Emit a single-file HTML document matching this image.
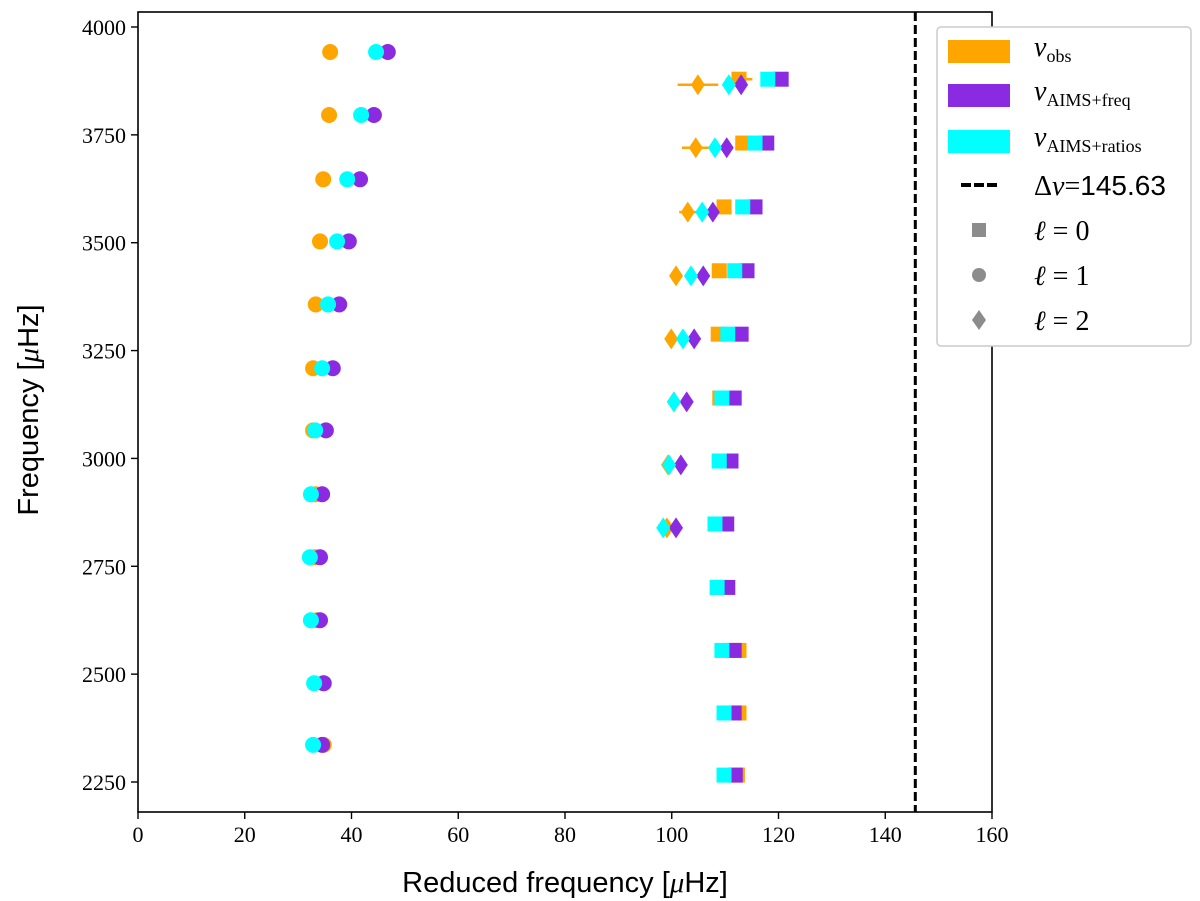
<!DOCTYPE html>
<html><head><meta charset="utf-8"><style>
html,body{margin:0;padding:0;background:#fff;}
svg{display:block;font-family:"Liberation Serif",serif;}
</style></head><body>
<svg id="chart" width="1200" height="901" xmlns="http://www.w3.org/2000/svg">
<g id="marks"></g>
<g id="axes"></g>
<g id="legend"></g>
</svg>
<script>
// l=1 (circles)
const l1Freq = [3942,3796,3647,3503,3357,3209,3065,2917,2771,2625,2479,2336];
const l1Obs = [36.0,35.8,34.7,34.1,33.3,32.8,32.8,33.3,33.1,33.5,34.7,34.8];
const l1Freqfit = [46.8,44.2,41.6,39.5,37.7,36.5,35.2,34.5,34.1,34.1,34.8,34.5];
const l1Ratios = [44.6,41.8,39.2,37.3,35.6,34.5,33.2,32.4,32.2,32.4,33.0,32.8];
// l=0 (squares)
const l0Freq = [3879,3731,3583,3435,3288,3140,2994,2848,2701,2555,2410,2266];
const l0Obs = [112.6,113.3,109.8,108.9,108.7,109.0,108.9,109.0,108.6,112.6,112.6,112.3];
const l0ObsErr = [2.5,0,0,0,0,0,0,0,0,1,0.8,1];
const l0Freqfit = [120.5,117.8,115.6,114.1,113.0,111.7,111.1,110.3,110.5,111.7,111.7,111.9];
const l0Ratios = [118.0,115.6,113.3,111.8,110.5,109.4,108.9,108.1,108.5,109.4,109.8,109.8];
// l=2 (diamonds)
const l2Freq = [3866,3720,3571,3423,3277,3131,2985,2839];
const l2Obs = [104.9,104.5,103.0,100.8,99.9,100.4,99.3,99.1];
const l2ObsErr = [3.8,2.6,1.6,0,0,0,0,0];
const l2Freqfit = [113.0,110.3,107.7,105.9,104.2,102.8,101.7,100.8];
const l2Ratios = [110.7,108.1,105.7,103.6,102.1,100.4,99.5,98.4];
const xTicks = [0,20,40,60,80,100,120,140,160];
const yTicks = [2250,2500,2750,3000,3250,3500,3750,4000];
const deltaNu = 145.63;

const NS="http://www.w3.org/2000/svg";
const L=138,R=992,T=12,B=812;
const xs=v=>L+(v-0)*(R-L)/160;
const ys=f=>27+(4000-f)*(782-27)/1750;
const C={obs:'#ffa500',fq:'#8a2be2',rt:'#00ffff'};
function mk(tag,attrs,parent){const e=document.createElementNS(NS,tag);for(const k in attrs)e.setAttribute(k,attrs[k]);parent.appendChild(e);return e;}
const marks=document.getElementById('marks'),axes=document.getElementById('axes'),leg=document.getElementById('legend');

function circle(v,f,c,name){const e=mk('circle',{cx:xs(v),cy:ys(f),r:8,fill:c},marks);

}
function square(v,f,c,name){const e=mk('rect',{x:xs(v)-7.5,y:ys(f)-7.5,width:15,height:15,fill:c},marks);

}
function diamond(v,f,c,name){const x=xs(v),y=ys(f);const e=mk('polygon',{points:`${x},${y-10.5} ${x+7},${y} ${x},${y+10.5} ${x-7},${y}`,fill:c},marks);

}
function errbar(v,f,err,name){if(!err)return;const e=mk('line',{x1:xs(v-err),x2:xs(v+err),y1:ys(f),y2:ys(f),stroke:C.obs,'stroke-width':2.5},marks);

}

// l=0
l0Freq.forEach((f,i)=>{errbar(l0Obs[i],f,l0ObsErr[i],'l0-obs-errorbar');square(l0Obs[i],f,C.obs,'l0-obs-point');});
l0Freq.forEach((f,i)=>square(l0Freqfit[i],f,C.fq,'l0-aims-freq-point'));
l0Freq.forEach((f,i)=>square(l0Ratios[i],f,C.rt,'l0-aims-ratios-point'));
// l=1
l1Freq.forEach((f,i)=>circle(l1Obs[i],f,C.obs,'l1-obs-point'));
l1Freq.forEach((f,i)=>circle(l1Freqfit[i],f,C.fq,'l1-aims-freq-point'));
l1Freq.forEach((f,i)=>circle(l1Ratios[i],f,C.rt,'l1-aims-ratios-point'));
// l=2
l2Freq.forEach((f,i)=>{errbar(l2Obs[i],f,l2ObsErr[i],'l2-obs-errorbar');diamond(l2Obs[i],f,C.obs,'l2-obs-point');});
l2Freq.forEach((f,i)=>diamond(l2Freqfit[i],f,C.fq,'l2-aims-freq-point'));
l2Freq.forEach((f,i)=>diamond(l2Ratios[i],f,C.rt,'l2-aims-ratios-point'));

// delta nu line
const dl=mk('line',{x1:xs(deltaNu),x2:xs(deltaNu),y1:T,y2:B,stroke:'#000','stroke-width':3,'stroke-dasharray':'9,4'},marks);



// frame
const fr=mk('rect',{x:L,y:T,width:R-L,height:B-T,fill:'none',stroke:'#000','stroke-width':1.6},axes);


xTicks.forEach(t=>{mk('line',{x1:xs(t),x2:xs(t),y1:B,y2:B+7,stroke:'#000','stroke-width':1.4},axes);
const tx=mk('text',{x:xs(t),y:B+30,'text-anchor':'middle','font-size':22},axes);tx.textContent=t;

});
yTicks.forEach(t=>{mk('line',{x1:L-7,x2:L,y1:ys(t),y2:ys(t),stroke:'#000','stroke-width':1.4},axes);
const tx=mk('text',{x:L-12,y:ys(t)+8,'text-anchor':'end','font-size':22},axes);tx.textContent=t;

});
const xt=mk('text',{x:565,y:892,'text-anchor':'middle','font-size':29,'font-family':'Liberation Sans, sans-serif'},axes);
xt.innerHTML='Reduced frequency [<tspan font-family="Liberation Serif" font-style="italic">μ</tspan>Hz]';


const yt=mk('text',{x:0,y:0,'text-anchor':'middle','font-size':29,'font-family':'Liberation Sans, sans-serif',transform:'translate(38,410) rotate(-90)'},axes);
yt.innerHTML='Frequency [<tspan font-family="Liberation Serif" font-style="italic">μ</tspan>Hz]';



// legend
const lb=mk('rect',{x:937,y:27,width:254,height:319,rx:4,fill:'#fff',stroke:'#ccc','stroke-width':1.5},leg);


const entries=[
 {y:52,kind:'patch',c:C.obs,html:'<tspan font-style="italic" font-size="28">ν</tspan><tspan font-size="18" dy="6">obs</tspan>',n:'legend-entry-obs'},
 {y:96,kind:'patch',c:C.fq,html:'<tspan font-style="italic" font-size="28">ν</tspan><tspan font-size="18" dy="6">AIMS+freq</tspan>',n:'legend-entry-aims-freq'},
 {y:142,kind:'patch',c:C.rt,html:'<tspan font-style="italic" font-size="28">ν</tspan><tspan font-size="18" dy="6">AIMS+ratios</tspan>',n:'legend-entry-aims-ratios'},
 {y:185,kind:'dash',html:'Δ<tspan font-style="italic">ν</tspan>=<tspan font-family="Liberation Sans">145.63</tspan>',n:'legend-entry-delta-nu'},
 {y:230,kind:'sq',html:'<tspan font-style="italic">ℓ</tspan> = 0',n:'legend-entry-l0'},
 {y:275,kind:'ci',html:'<tspan font-style="italic">ℓ</tspan> = 1',n:'legend-entry-l1'},
 {y:320,kind:'di',html:'<tspan font-style="italic">ℓ</tspan> = 2',n:'legend-entry-l2'}];
entries.forEach(e=>{const g=mk('g',{},leg);


const cx=979;
if(e.kind==='patch')mk('rect',{x:948,y:e.y-12,width:62,height:23,fill:e.c},g);
if(e.kind==='dash')mk('line',{x1:961,x2:997,y1:e.y,y2:e.y,stroke:'#000','stroke-width':4,'stroke-dasharray':'10,3'},g);
if(e.kind==='sq')mk('rect',{x:cx-7,y:e.y-7,width:14,height:14,fill:'#8c8c8c'},g);
if(e.kind==='ci')mk('circle',{cx:cx,cy:e.y,r:7,fill:'#8c8c8c'},g);
if(e.kind==='di')mk('polygon',{points:`${cx},${e.y-10} ${cx+7},${e.y} ${cx},${e.y+10} ${cx-7},${e.y}`,fill:'#8c8c8c'},g);
const t=mk('text',{x:1034,y:e.y+(e.kind==='patch'?4:10),'font-size':28},g);t.innerHTML=e.html;});
</script>
</body></html>
